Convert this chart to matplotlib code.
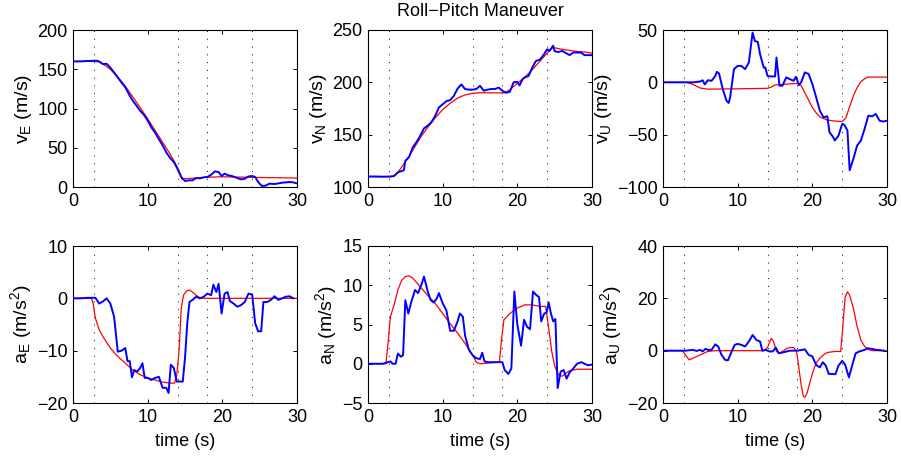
import matplotlib
matplotlib.use("Agg")
import matplotlib.pyplot as plt
import numpy as np

plt.rcParams['font.family'] = ['Liberation Sans', 'DejaVu Sans']
plt.rcParams['mathtext.fontset'] = 'custom'
plt.rcParams['mathtext.rm'] = 'Liberation Sans'
plt.rcParams['mathtext.it'] = 'Liberation Sans:italic'
plt.rcParams['axes.unicode_minus'] = True

# ---------------- data ----------------
event_times = [2.8, 14.0, 18.0, 24.0]

# v_E
tb_vE = [0, 1, 2, 3.1, 3.5, 4, 4.5, 5, 5.5, 6, 6.5, 7, 7.5, 8, 8.5, 9, 9.5, 10, 10.5, 11, 11.5, 12,
         12.5, 13, 13.5, 14, 14.5, 15, 15.5, 16, 16.5, 17, 17.5, 18, 18.5, 19, 19.5, 19.9, 20.3, 20.8,
         21.3, 22, 22.5, 23, 23.5, 24, 24.4, 24.8, 25.3, 25.8, 26.3, 27, 27.5, 28, 28.5, 29, 29.5, 30]
b_vE = [160, 160, 160.5, 161, 160, 156.5, 157, 152, 146, 139.5, 133, 127, 118, 110, 103.6, 97, 92, 84.6,
        76, 69, 61, 53, 44, 37, 32, 23, 12.7, 7.6, 8.5, 8.5, 11.4, 11, 12.3, 12.7, 15.6, 19.9, 19, 14,
        17, 14.8, 14, 11.4, 9.7, 10.6, 13.5, 14, 12.7, 6.3, 1.3, 1.7, 4.2, 3.8, 4.6, 5.5, 5.9, 6.3, 5.9, 4.6]
tr_vE = [0, 2.8, 3.5, 4, 5, 6, 7, 8, 9, 10, 11, 12, 13, 14, 14.6, 15, 17, 18, 20, 24, 30]
r_vE = [160, 160, 159.5, 157, 150, 140, 128.5, 115, 101, 87, 72, 57, 42, 25, 10, 10.6, 11.8, 12.5, 13, 12.3, 11.4]

# v_N
tb_vN = [0, 1, 2, 3, 3.5, 4, 4.8, 5, 5.5, 6, 6.5, 7, 7.5, 8, 8.5, 9, 9.5, 10, 10.5, 11, 11.5, 12, 12.5,
         13, 13.5, 14, 14.5, 15, 15.5, 16, 16.5, 17, 17.5, 18, 18.5, 19, 19.5, 20, 20.3, 20.7, 21, 21.5,
         22, 22.5, 23, 23.5, 24, 24.3, 24.5, 24.8, 25, 25.5, 26, 26.5, 27, 27.5, 28, 28.5, 29, 29.5, 30]
b_vN = [110, 110, 109.8, 110, 110.5, 114, 116, 125, 128.5, 138, 143, 149, 156, 158.6, 162, 168, 176, 179,
        182, 183, 187, 194, 198, 193.6, 193, 193, 193.6, 196.7, 192, 193, 193.6, 193.6, 195, 192, 190,
        191, 200, 200.5, 197, 203, 204.7, 206, 214, 220.5, 221.5, 226, 231.6, 230, 232, 235, 229.7, 229,
        230, 228, 226, 228.5, 228.5, 228.5, 226, 226, 226]
tr_vN = [0, 3.3, 4, 5, 6, 7, 8, 9, 10, 11, 12, 13, 14, 15, 18.3, 19, 20, 21, 22, 23, 24, 24.7, 25, 26, 27, 28, 29, 30]
r_vN = [110, 110, 114, 124, 135, 147, 157, 166, 174, 180, 185, 188, 189.5, 190, 190, 193, 199, 205, 212, 220,
        228, 233, 233, 231.5, 230.5, 229.5, 229, 228]

# v_U
tb_vU = [0, 1, 2, 3, 4, 5, 5.3, 5.6, 6, 6.5, 7, 7.2, 7.5, 8, 8.5, 8.8, 9, 9.5, 10, 10.5, 11, 11.5, 12,
         12.3, 12.7, 13, 13.5, 13.7, 14, 14.5, 15, 15.2, 15.6, 16, 16.5, 17, 17.5, 17.8, 18.2, 18.5, 19,
         19.5, 20, 20.5, 21, 21.5, 22, 22.3, 22.8, 23, 23.5, 24, 24.3, 24.7, 25, 25.5, 26, 26.5, 27, 27.5,
         28, 28.5, 29, 29.5, 30]
b_vU = [0, 0, 0, 0, 0, 0.8, 2, -2, 2, 1.5, 6, 10, 8.6, -6.4, -17.5, -19.7, -14, 12.6, 15.7, 15.7, 12.6, 19,
        47.5, 39.5, 38.6, 26.8, 14, 14.2, 6, 5.6, 5.6, 23.7, -3.2, -3.2, 4.7, 3, 1.5, 5.3, -2.6, 0, 9.5, 8,
        -1.6, -14, -27, -33.4, -32.4, -47.7, -52.4, -55.6, -51, -39.7, -40.7, -46, -84, -73, -60.4, -55.6,
        -44.5, -31.8, -32.5, -30.2, -36.6, -37.5, -36.6]
tr_vU = [0, 3.2, 4, 5, 6, 10, 14, 14.5, 15, 16, 17, 18, 18.5, 19, 19.5, 20, 20.5, 21, 22, 23, 24, 24.5, 25,
         25.5, 26, 26.5, 27, 27.5, 30]
r_vU = [0, 0, -2, -5.5, -6.5, -6.2, -5.7, -4.5, -2.5, -2, -1.5, -1, -3, -10, -17, -24, -29, -33, -36, -37,
        -37.5, -34, -23, -13, -5, 0.5, 3.5, 5, 5]

# a_E
tb_aE = [0, 1, 2, 3, 3.5, 4, 4.5, 5, 5.5, 6, 6.5, 7, 7.3, 7.6, 7.9, 8.2, 8.6, 9, 9.3, 9.6, 10, 10.5, 11,
         11.5, 12, 12.5, 12.8, 13.1, 13.5, 13.9, 14.3, 14.7, 15, 15.3, 15.6, 16, 16.5, 17, 17.5, 18, 18.5,
         18.8, 19.2, 19.5, 19.9, 20.3, 20.7, 21, 21.5, 22, 22.5, 23, 23.5, 24, 24.4, 24.8, 25.2, 25.5, 26,
         26.5, 27, 27.5, 28, 28.5, 29, 29.5]
b_aE = [0, 0, 0.1, 0.1, -1, -0.6, 0, -1, -3.5, -10.2, -10, -9.5, -12, -12, -15.1, -13.7, -14, -13.3, -12.4,
        -15.2, -15.2, -15.6, -15.2, -15, -17.1, -17.1, -18.1, -12.7, -13.3, -15.9, -15.9, -15.9, -11.4, -4.8,
        -0.7, -0.3, 0.3, 0, 0.3, 0.9, 0.6, 2.6, 1.2, 2.8, -2.9, 0.9, 1.2, -0.5, -1, -1.6, -1.3, -0.7, 0.9,
        0.7, -4.8, -6.3, -6.3, -0.7, -0.7, -0.3, 0.4, -0.3, 0, 0.3, 0.4, 0]
tr_aE = [0, 2.5, 2.7, 3, 3.5, 4, 5, 6, 7, 8, 9, 10, 11, 12, 13, 13.6, 13.9, 14.2, 14.5, 14.8, 15.2, 15.6,
         16, 16.5, 17, 17.5, 30]
r_aE = [0, 0, -1, -3.8, -6, -7.3, -9.5, -11.1, -12.4, -13.7, -14.6, -15.2, -15.6, -16, -16.2, -16.2, -14.6,
        -10.2, -1.9, 0.6, 1.4, 1.6, 1.2, 0.6, 0.1, 0, 0]

# a_N
tb_aN = [0, 1, 2, 3, 3.3, 3.7, 4, 4.4, 4.7, 5, 5.4, 5.8, 6.3, 6.7, 7.2, 7.5, 8, 8.4, 8.8, 9.2, 9.5, 10,
         10.5, 11, 11.5, 12, 12.3, 12.7, 13, 13.5, 14, 14.5, 15, 15.3, 15.6, 16, 17, 18, 18.3, 18.8, 19.2,
         19.6, 20, 20.5, 20.9, 21.3, 21.7, 22.1, 22.6, 22.9, 23.2, 23.6, 23.9, 24.2, 24.5, 24.8, 25.1, 25.4,
         25.8, 26.2, 26.6, 27, 27.5, 28, 28.6, 29, 29.5, 30]
b_aN = [0, 0, 0, 0.3, 0, 0, 1.3, 0.9, 1.1, 8.1, 6.4, 7.9, 9.4, 9, 10.2, 11.1, 9.2, 8.1, 7.8, 8.3, 9, 7.7,
        6.8, 4.2, 4.2, 5.4, 6.4, 6, 3.6, 1.8, 1.1, 0.7, 0.6, 1.4, 0.3, 0.2, 0.2, 0.2, -0.8, -1.3, -0.6, 9.2,
        5, 2.3, 5.6, 4.7, 4.4, 9.2, 8.7, 8.5, 5.4, 6.4, 6.5, 7.8, 6.4, 5.4, 5.7, -3.1, -1, -0.8, -1.9, -1.1,
        -0.6, 0, 0.2, 0, -0.2, -0.1]
tr_aN = [0, 2.4, 2.7, 3, 3.5, 4, 4.5, 5, 5.5, 6, 7, 8, 9, 10, 11, 12, 13, 14, 14.5, 15, 17.6, 17.9, 18.2,
         18.6, 19, 20, 21, 22, 23, 23.8, 24.2, 24.6, 25, 25.5, 26, 26.5, 27, 28, 30]
r_aN = [0, 0, 2.8, 6, 7.5, 9.4, 10.6, 11.1, 11.2, 10.9, 9.8, 8.7, 7.7, 6.4, 5.1, 3.9, 2.6, 1.1, 0.2, 0, 0.2,
        3.2, 5.6, 6, 6.4, 7.1, 7.5, 7.5, 7.3, 7.3, 4.5, 1.6, -0.3, -1.4, -1.6, -1.2, -0.9, -0.7, -0.7]

# a_U
tb_aU = [0, 1, 2, 3, 4, 4.5, 5, 5.3, 5.7, 6, 6.5, 7, 7.4, 7.8, 8.3, 8.7, 9.2, 9.6, 10, 10.5, 11, 11.5, 12,
         12.5, 13, 13.3, 13.8, 14.2, 14.7, 15.1, 15.5, 16, 17, 18, 19, 19.5, 20, 20.5, 21, 21.4, 21.8, 22.2,
         22.7, 23.1, 23.5, 24, 24.4, 24.9, 25.3, 25.8, 26.3, 27, 27.4, 28, 28.5, 29, 29.6]
b_aU = [0, 0, 0, 0, 0.3, -0.1, 0.3, -0.3, 0.7, 0.3, 0.3, 2.4, 1.6, -1.4, -3.5, -3.7, -0.3, 2.2, 2.6, 2.2, 1.6,
        3.5, 6, 4.1, 3.5, 0, 0.3, -0.3, -0.3, 1.2, -1, -0.7, 0, 0, 0.5, -1.6, -2.2, -5.4, -6.4, -4.4, -5.7,
        -8.9, -8.9, -9, -5.7, -3.9, -5.4, -10.2, -6, -1, -0.3, 0.3, 0.9, 0.7, 0.3, 0.2, 0]
tr_aU = [0, 2.6, 3, 3.5, 4, 5, 6, 7, 13.5, 14, 14.5, 14.8, 15.2, 15.6, 16, 16.5, 17, 17.5, 17.9, 18.2, 18.5,
         18.8, 19, 19.3, 19.7, 20.1, 20.5, 21, 21.5, 22, 23, 23.8, 24.1, 24.4, 24.7, 25, 25.5, 26, 26.5, 27,
         27.5, 28, 30]
r_aU = [0, 0, -1.6, -3.5, -2.9, -1.6, -0.3, 0, 0, 1.2, 4.7, 3.5, -0.3, -1, -0.3, 0.7, 1.2, 1.2, -0.3, -6.7,
        -13, -17.5, -17.8, -16.2, -11.8, -7.9, -4.8, -2.9, -1.6, -0.7, -0.3, -0.3, 9.8, 20.6, 22.5, 21.2,
        16.2, 9.2, 4.1, 1.6, 0.5, 0, 0]

panels = [
    (tb_vE, b_vE, tr_vE, r_vE, (0, 200), [0, 50, 100, 150, 200], r'v$_\mathregular{E}$ (m/s)'),
    (tb_vN, b_vN, tr_vN, r_vN, (100, 250), [100, 150, 200, 250], r'v$_\mathregular{N}$ (m/s)'),
    (tb_vU, b_vU, tr_vU, r_vU, (-100, 50), [-100, -50, 0, 50], r'v$_\mathregular{U}$ (m/s)'),
    (tb_aE, b_aE, tr_aE, r_aE, (-20, 10), [-20, -10, 0, 10], r'a$_\mathregular{E}$ (m/s$^\mathregular{2}$)'),
    (tb_aN, b_aN, tr_aN, r_aN, (-5, 15), [-5, 0, 5, 10, 15], r'a$_\mathregular{N}$ (m/s$^\mathregular{2}$)'),
    (tb_aU, b_aU, tr_aU, r_aU, (-20, 40), [-20, 0, 20, 40], r'a$_\mathregular{U}$ (m/s$^\mathregular{2}$)'),
]
xticks = [0, 10, 20, 30]

# ---------------- figure ----------------
fig = plt.figure(figsize=(9.01, 4.57), dpi=100)
W, H = 901, 457
lefts = [73, 368, 663]
tops = [30, 246]
aw, ah = 224, 157
FS = 13

for i, (tb, bv, tr, rv, ylim, yt, ylab) in enumerate(panels):
    row, col = divmod(i, 3)
    ax = fig.add_axes([lefts[col] / W, 1 - (tops[row] + ah) / H, aw / W, ah / H])
    for te in event_times:
        ax.axvline(te, color='k', lw=0.7, linestyle=(0, (1, 7)), zorder=1)
    ax.plot(tr, rv, color=(1, 0, 0), lw=0.9, zorder=2)
    ax.plot(tb, bv, color=(0, 0, 1), lw=1.4, zorder=3)
    ax.set_xlim(0, 30)
    ax.set_ylim(*ylim)
    ax.set_xticks(xticks)
    ax.set_yticks(yt)
    ax.tick_params(direction='in', length=3, width=0.7, top=True, right=True,
                   labelsize=FS, pad=4)
    for s in ax.spines.values():
        s.set_linewidth(0.8)
    ax.set_ylabel(ylab, fontsize=FS + 1, labelpad=2)
    if row == 1:
        ax.set_xlabel('time (s)', fontsize=FS, labelpad=5)
    if i == 1:
        ax.set_title('Roll\u2212Pitch Maneuver', fontsize=FS, pad=10)

fig.savefig('out.png', dpi=100)
